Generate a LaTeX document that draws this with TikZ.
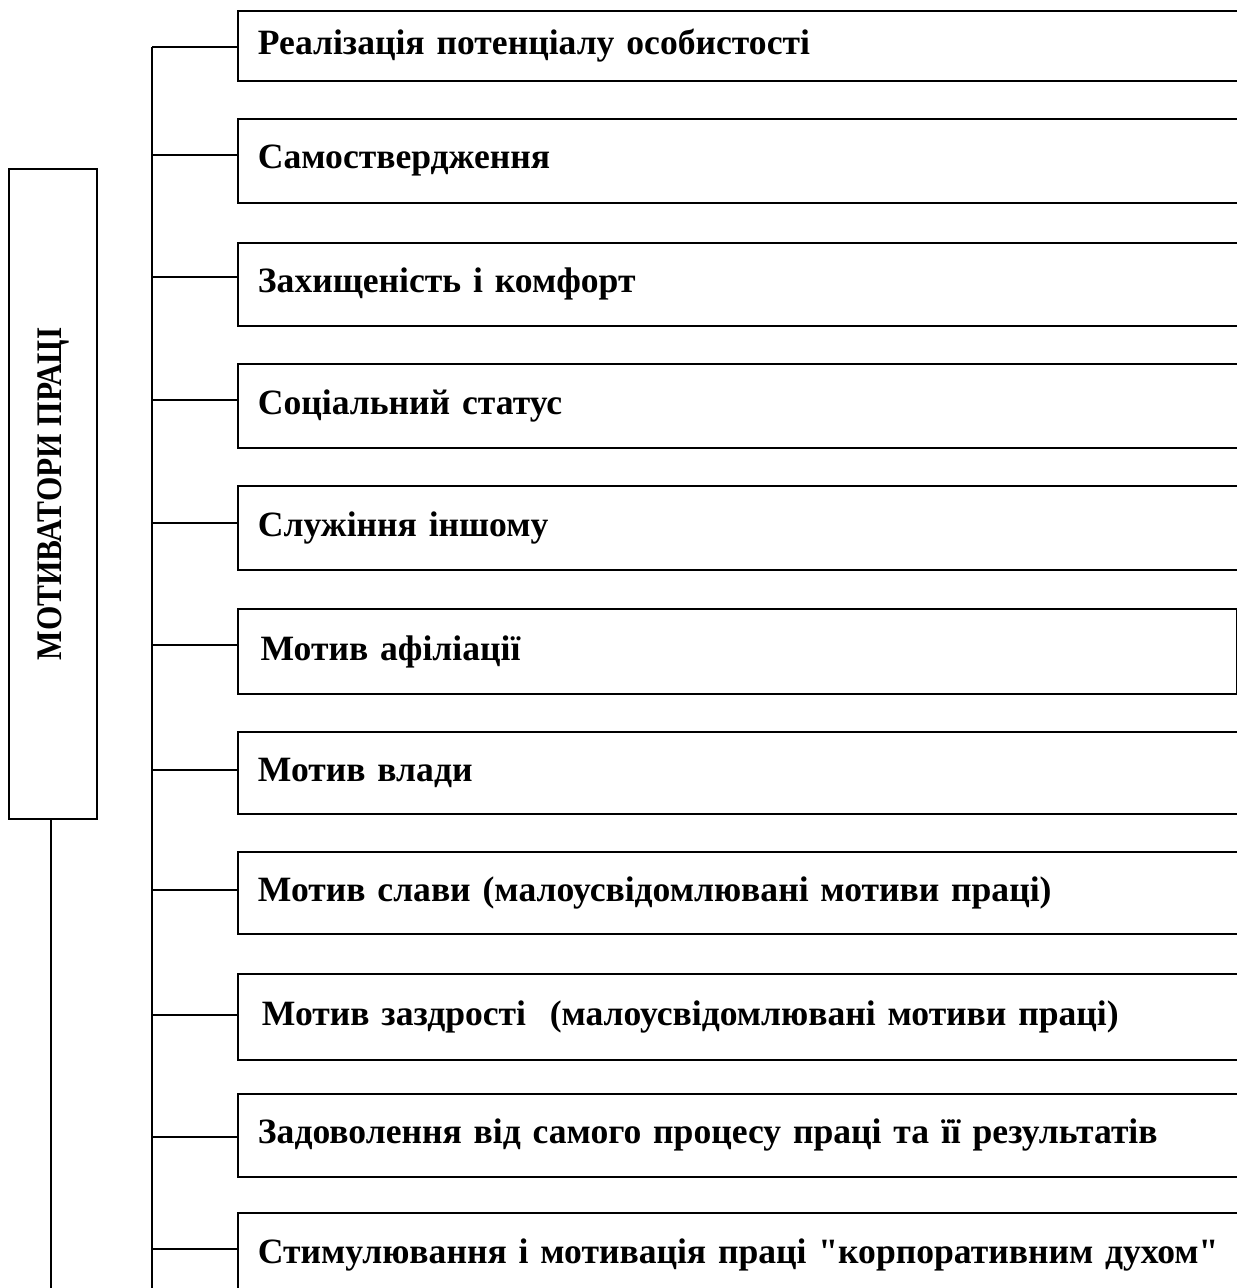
\documentclass[tikz,border=0pt]{standalone}
\usepackage{fontspec}
\setmainfont{Liberation Serif}[Ligatures=TeXOff]
\begin{document}
\begin{tikzpicture}[x=0.75pt,y=-0.75pt,
  frame/.style={line width=1.4pt},
  motive/.style={draw, frame, rectangle, anchor=north west, align=left,
    text width=735pt, inner xsep=15pt, inner ysep=0pt,
    font=\bfseries\fontsize{26.7}{30}\selectfont},
  link/.style={line width=1.4pt}]
\useasboundingbox (0,0) rectangle (1237,1288);
\clip (0,0) rectangle (1237,1288);

% left title block (condensed, reading bottom to top)
\node[draw, frame, minimum width=66pt, minimum height=487.5pt, inner sep=0pt,
  font=\bfseries\fontsize{27}{30}\selectfont] (root) at (53,494)
  {\rotatebox{90}{\scalebox{0.87}[1]{МОТИВАТОРИ ПРАЦІ}}};

% list of motives
\node[motive, minimum height=52.5pt] (b1) at (237,10) {Реалізація потенціалу особистості};
\node[motive, minimum height=63pt] (b2) at (237,118) {Самоствердження};
\node[motive, minimum height=62.25pt] (b3) at (237,242) {Захищеність і комфорт};
\node[motive, minimum height=63pt] (b4) at (237,363) {Соціальний статус};
\node[motive, minimum height=63pt] (b5) at (237,485) {Служіння іншому};
\node[motive, minimum height=63.75pt, text width=719.25pt] (b6) at (237,608) {\hspace{2pt}Мотив афіліації};
\node[motive, minimum height=61.5pt] (b7) at (237,731) {Мотив влади};
\node[motive, minimum height=61.5pt] (b8) at (237,851) {Мотив слави (малоусвідомлювані мотиви праці)};
\node[motive, minimum height=64.5pt] (b9) at (237,973) {\hspace{3pt}Мотив заздрості\ \ (малоусвідомлювані мотиви праці)};
\node[motive, minimum height=62.25pt] (b10) at (237,1093) {Задоволення від самого процесу праці та її результатів};
\node[motive, minimum height=63pt] (b11) at (237,1212) {Стимулювання і мотивація праці "корпоративним духом"};

% spine and branch points
\coordinate (sTop) at (152,47);
\coordinate (sBot) at (152,1292);
\coordinate (rootFoot) at (51,1292);
\draw[link] (sTop) -- (sBot);
\draw[link] (root.south -| rootFoot) -- (rootFoot);

\coordinate (s1) at (152,47);
\coordinate (s2) at (152,155);
\coordinate (s3) at (152,277);
\coordinate (s4) at (152,400);
\coordinate (s5) at (152,523);
\coordinate (s6) at (152,645);
\coordinate (s7) at (152,770);
\coordinate (s8) at (152,890);
\coordinate (s9) at (152,1015);
\coordinate (s10) at (152,1137);
\coordinate (s11) at (152,1249);
\foreach \i in {1,...,11}
  \draw[link] (s\i) -- (s\i -| b\i.west);
\end{tikzpicture}
\end{document}
